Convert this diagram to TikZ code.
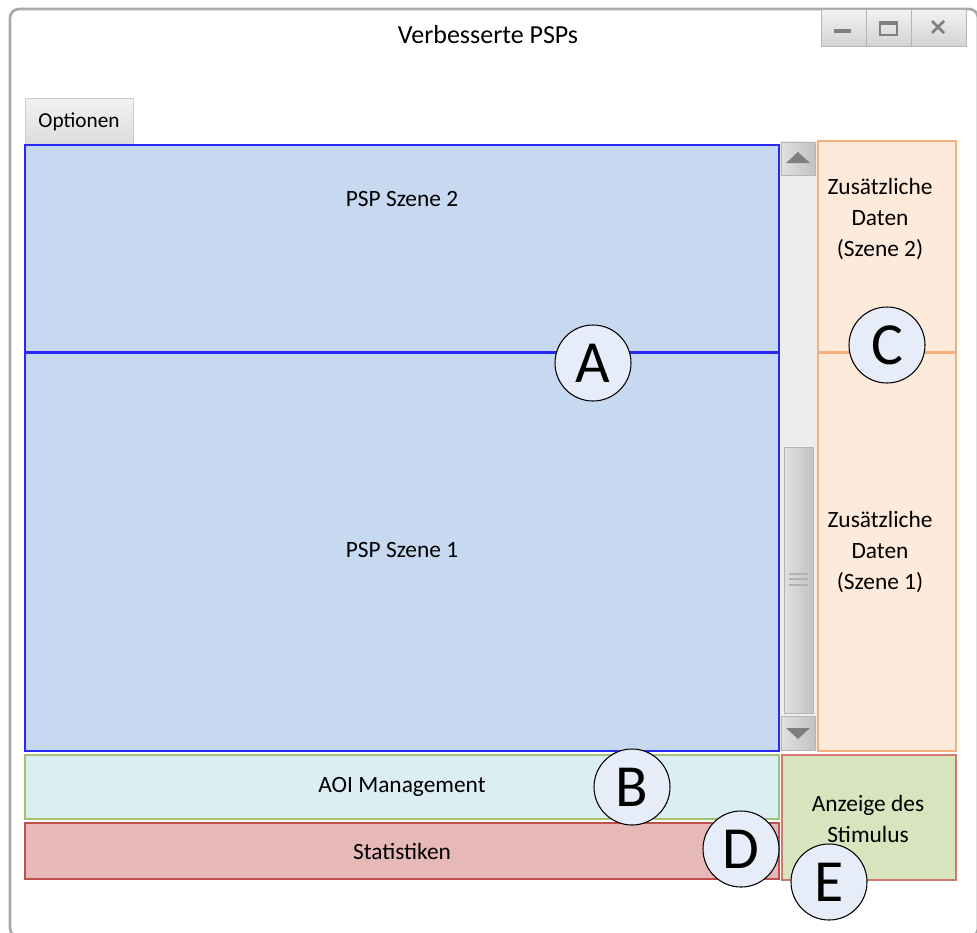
\documentclass[tikz,border=0pt]{standalone}
\usepackage{fontspec}
\setmainfont{Carlito}
\definecolor{winframe}{HTML}{A9A9A9}
\definecolor{pspfill}{HTML}{C6D9F0}
\definecolor{pspline}{HTML}{2828F6}
\definecolor{datfill}{HTML}{FDEADA}
\definecolor{datline}{HTML}{F8AE78}
\definecolor{aoifill}{HTML}{DAEEF3}
\definecolor{aoiline}{HTML}{A6C171}
\definecolor{statfill}{HTML}{E6B9B8}
\definecolor{statline}{HTML}{C0504D}
\definecolor{stimfill}{HTML}{D7E4BD}
\definecolor{stimline}{HTML}{D0776E}
\definecolor{markfill}{HTML}{E6EDF8}
\definecolor{trackfill}{HTML}{EEEEEE}
\definecolor{btnline}{HTML}{B4B4B4}
\definecolor{icongray}{HTML}{7F7F7F}
\tikzset{
  bodytext/.style={font=\fontsize{13.3}{17.5}\selectfont, align=center},
  panel/.style={line width=0.75pt},
  marker/.style={circle, draw=black, line width=0.6pt, fill=markfill,
    minimum size=76*0.02cm, inner sep=0pt,
    font=\fontsize{34}{34}\selectfont},
  winbtn/.style={draw=btnline, line width=0.5pt, top color=white!95!black,
    bottom color=white!83!black},
  sbtn/.style={draw=btnline, line width=0.5pt, left color=white!88!black,
    right color=white!76!black},
  icon/.style={draw=icongray, line width=1.7pt}
}
\begin{document}
\begin{tikzpicture}[x=0.02cm, y=-0.02cm]
\useasboundingbox (0,0) rectangle (977,933);
\begin{scope}
\clip (0,0) rectangle (977,933);
% window frame
\draw[winframe, line width=1.5pt, rounded corners=9*0.02cm] (10,9) rectangle (978,937);
\end{scope}
% title
\node[font=\fontsize{14.8}{18}\selectfont] (title) at (488,35) {Verbesserte PSPs};
% window buttons
\draw[winbtn] (821,9) rectangle (866,46);
\draw[winbtn] (866,9) rectangle (911,46);
\draw[winbtn] (911,9) rectangle (966,46);
\draw[icon, line width=1.8pt] (834,31) -- (851,31);
\draw[icongray, line width=0.7pt] (880,22) rectangle (897,35);
\draw[icongray, line width=1.8pt] (880,23) -- (897,23);
\draw[icon, line width=1.6pt] (932,21) -- (944,33) (944,21) -- (932,33);
% options tab
\node[draw=white!80!black, line width=0.5pt, top color=white!95!black,
  bottom color=white!86!black, minimum width=108*0.02cm, minimum height=47*0.02cm,
  inner sep=0pt, font=\fontsize{12.1}{14}\selectfont] (opt) at (79,121.5) {Optionen};
% PSP scenes
\node[panel, draw=pspline, fill=pspfill, minimum width=754*0.02cm,
  minimum height=207*0.02cm, inner sep=0pt] (psp2) at (402,248.5) {};
\node[panel, draw=pspline, fill=pspfill, minimum width=754*0.02cm,
  minimum height=399*0.02cm, inner sep=0pt] (psp1) at (402,551.5) {};
\draw[pspline, line width=1.3pt] (psp2.south west) -- (psp2.south east);
\node[bodytext] at (402,199) {PSP Szene 2};
\node[bodytext] at (402,550) {PSP Szene 1};
% scroll bar
\fill[trackfill] (780,141) rectangle (817,751);
\draw[sbtn] (781,142) rectangle (815,175);
\fill[icongray] (786,163) -- (810,163) -- (798,152) -- cycle;
\draw[sbtn] (784,447) rectangle (813,713);
\draw[white!70!black, line width=1pt] (789,574) -- (808,574) (789,579) -- (808,579) (789,585) -- (808,585);
\draw[sbtn] (781,716) rectangle (815,750);
\fill[icongray] (786,728) -- (810,728) -- (798,739) -- cycle;
% additional data
\node[panel, draw=datline, fill=datfill, minimum width=138*0.02cm,
  minimum height=211*0.02cm, inner sep=0pt] (dat2) at (887,246.5) {};
\node[panel, draw=datline, fill=datfill, minimum width=138*0.02cm,
  minimum height=399*0.02cm, inner sep=0pt] (dat1) at (887,551.5) {};
\draw[datline, line width=1.3pt] (dat2.south west) -- (dat2.south east);
\node[bodytext] at (880,219) {Zusätzliche\\Daten\\(Szene 2)};
\node[bodytext] at (880,552) {Zusätzliche\\Daten\\(Szene 1)};
% bottom panels
\node[panel, draw=aoiline, fill=aoifill, minimum width=754*0.02cm,
  minimum height=64*0.02cm, inner sep=0pt, bodytext] (aoi) at (402,787) {AOI Management};
\node[panel, draw=statline, fill=statfill, minimum width=754*0.02cm,
  minimum height=56*0.02cm, inner sep=0pt, bodytext] (stat) at (402,851) {Statistiken};
\node[draw=stimline, line width=1pt, fill=stimfill, minimum width=174*0.02cm,
  minimum height=125*0.02cm, inner sep=0pt] (stim) at (869,817.5) {};
\node[bodytext] at (868,819) {Anzeige des\\Stimulus};
% markers
\node[marker] (mA) at (593,363) {A};
\node[marker] (mB) at (632,787) {B};
\node[marker] (mC) at (887,345) {C};
\node[marker] (mD) at (741,849) {D};
\node[marker] (mE) at (829,882) {E};
\end{tikzpicture}
\end{document}
